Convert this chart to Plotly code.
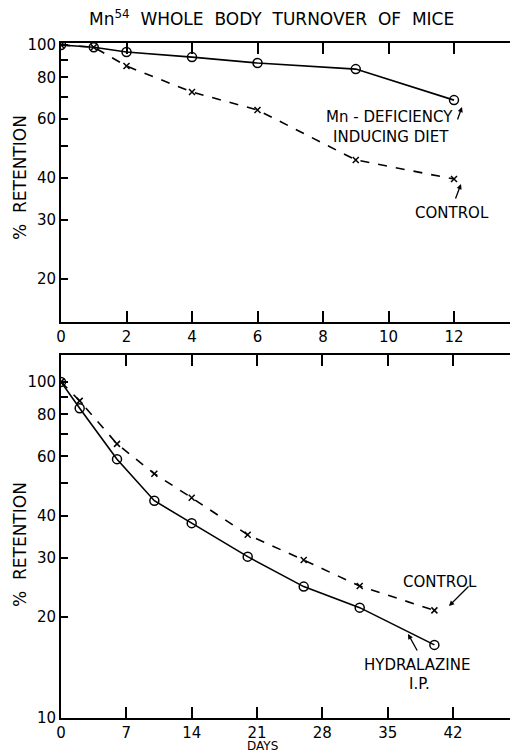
import plotly.graph_objects as go

# Top panel data (days, % retention)
top_days = [0, 1, 2, 4, 6, 9, 12]
top_mn_deficient = [100, 98.5, 95.3, 92.0, 88.3, 84.7, 68.4]
top_control = [100, 98.5, 86.5, 72.3, 63.9, 45.3, 39.7]

# Bottom panel data
bot_days = [0, 2, 6, 10, 14, 20, 26, 32, 40]
bot_hydralazine = [100, 83.5, 58.9, 44.3, 38.0, 30.2, 24.6, 21.3, 16.5]
bot_control = [100, 87.8, 65.4, 53.3, 45.2, 35.1, 29.5, 24.7, 20.9]

top_xticks = [0, 2, 4, 6, 8, 10, 12]
bot_xticks = [0, 7, 14, 21, 28, 35, 42]
top_yticks = [20, 30, 40, 50, 60, 70, 80, 90, 100]
top_ylabels = ["20", "30", "40", "", "60", "", "80", "", "100"]
bot_yticks = [10, 20, 30, 40, 50, 60, 70, 80, 90, 100]
bot_ylabels = ["10", "20", "30", "40", "", "60", "", "80", "", "100"]

FONT = "DejaVu Sans"
W, H = 510, 755
NB = "\u00a0"

fig = go.Figure()

solid = dict(color="black", width=1.6)
dashed = dict(color="black", width=1.6, dash="dash")
circ = dict(symbol="circle-open", size=9, color="black", line=dict(width=1.5, color="black"))
cross = dict(symbol="x-thin", size=6, color="black", line=dict(width=1.5, color="black"))

fig.add_trace(go.Scatter(x=top_days, y=top_mn_deficient, mode="lines+markers",
                         line=solid, marker=circ, xaxis="x", yaxis="y", showlegend=False))
fig.add_trace(go.Scatter(x=top_days, y=top_control, mode="lines+markers",
                         line=dashed, marker=cross, xaxis="x", yaxis="y", showlegend=False))
fig.add_trace(go.Scatter(x=bot_days, y=bot_hydralazine, mode="lines+markers",
                         line=solid, marker=circ, xaxis="x2", yaxis="y2", showlegend=False))
fig.add_trace(go.Scatter(x=bot_days, y=bot_control, mode="lines+markers",
                         line=dashed, marker=cross, xaxis="x2", yaxis="y2", showlegend=False))

x_dom = [61 / W, 1.0]
top_dom = [1 - 322 / H, 1 - 43 / H]
bot_dom = [1 - 718 / H, 1 - 355 / H]

axcommon = dict(showgrid=False, zeroline=False, showline=True, linecolor="black",
                linewidth=1.8, ticks="inside", tickcolor="black", tickwidth=1.6,
                automargin=False,
                tickfont=dict(family=FONT, size=15, color="black"))

fig.update_layout(
    width=W, height=H, margin=dict(l=0, r=0, t=0, b=0),
    paper_bgcolor="white", plot_bgcolor="white",
    xaxis=dict(domain=x_dom, range=[0, 13.71], tickvals=top_xticks, ticklen=11,
               mirror="ticks", anchor="y", **axcommon),
    yaxis=dict(domain=top_dom, type="log", range=[1.171, 2.006], tickvals=top_yticks,
               ticktext=top_ylabels, ticklen=7, anchor="x", **axcommon),
    xaxis2=dict(domain=x_dom, range=[0, 48.1], tickvals=bot_xticks, ticklen=11,
                mirror="ticks", anchor="y2", **axcommon),
    yaxis2=dict(domain=bot_dom, type="log", range=[1.0, 2.08], tickvals=bot_yticks,
                ticktext=bot_ylabels, ticklen=7, anchor="x2", **axcommon),
)

tf = dict(family=FONT, size=15, color="black")

def ann(text, x, y, **kw):
    fig.add_annotation(text=text, x=x / W, y=1 - y / H, xref="paper", yref="paper",
                       xanchor="center", yanchor="middle",
                       showarrow=False, font=kw.pop("font", tf), **kw)

ann("Mn<sup>54</sup>" + NB * 2 + (NB * 2).join(["WHOLE", "BODY", "TURNOVER", "OF", "MICE"]),
    271, 18, font=dict(family=FONT, size=17, color="black"))
ann("%" + NB * 2 + "RETENTION", 20, 178, textangle=-90, font=dict(family=FONT, size=17, color="black"))
ann("%" + NB * 2 + "RETENTION", 20, 545, textangle=-90, font=dict(family=FONT, size=17, color="black"))
ann("DAYS", 262, 746, font=dict(family=FONT, size=12, color="black"))

ann("Mn - DEFICIENCY", 389, 117)
ann("INDUCING DIET", 391, 137)
ann("CONTROL", 452, 213)
ann("CONTROL", 440, 582)
ann("HYDRALAZINE", 417, 665)
ann("I.P.", 419, 684)

def arrow(x0, y0, x1, y1):
    fig.add_annotation(x=x1 / W, y=1 - y1 / H, ax=x0 - x1, ay=y0 - y1,
                       xref="paper", yref="paper", axref="pixel", ayref="pixel",
                       showarrow=True, arrowhead=2, arrowsize=0.8, arrowwidth=1.3,
                       arrowcolor="black", text="")

arrow(457, 121, 462, 107)
arrow(455, 200, 461, 184)
arrow(470, 585, 449, 606)
arrow(418, 652, 408, 634)

fig.write_html("out.html", config={"displayModeBar": False},
               post_script="document.body.style.margin='0';document.body.style.overflow='hidden';")
